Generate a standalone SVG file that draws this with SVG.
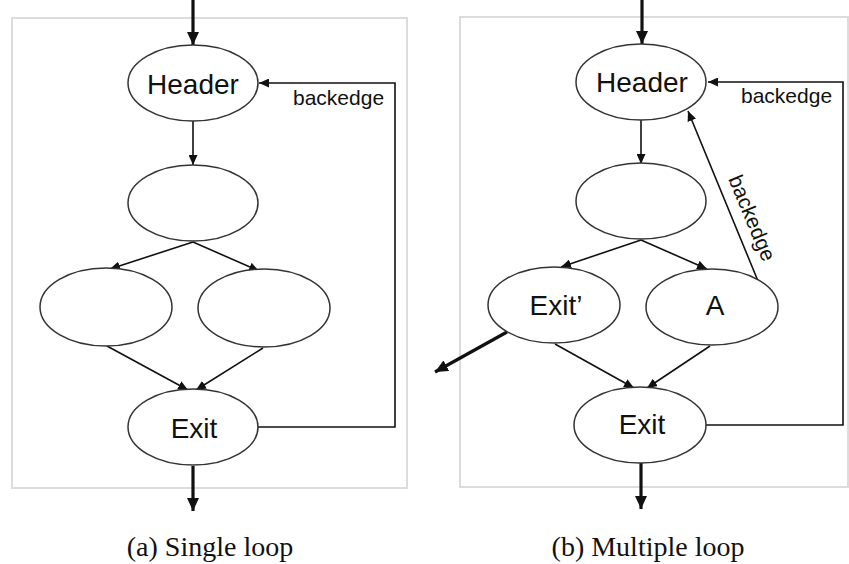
<svg xmlns="http://www.w3.org/2000/svg" width="849" height="564" viewBox="0 0 849 564">
<style>
.frame{fill:none;stroke:#dcdcdc;stroke-width:2}
.node{fill:#fff;stroke:#333;stroke-width:1.5}
.lbl{font-family:"Liberation Sans",Arial,sans-serif;font-size:28px;fill:#111;text-anchor:middle}
.elbl{font-family:"Liberation Sans",Arial,sans-serif;font-size:21px;fill:#111}
.edge{fill:none;stroke:#111;stroke-width:1.6}
.thick{fill:none;stroke:#111;stroke-width:3.2}
.cap{font-family:"Liberation Serif","Times New Roman",serif;font-size:28px;fill:#111;text-anchor:middle}
</style>
<defs>
<marker id="ah" markerUnits="userSpaceOnUse" markerWidth="10" markerHeight="9" refX="10" refY="4.5" orient="auto"><path d="M0,0 L10,4.5 L0,9 z" fill="#111"/></marker>
<marker id="ahT" markerUnits="userSpaceOnUse" markerWidth="13" markerHeight="12" refX="13" refY="6" orient="auto"><path d="M0,0 L13,6 L0,12 z" fill="#111"/></marker>
</defs>
<rect class="frame" x="12" y="18" width="395" height="470"/>
<rect class="frame" x="460" y="17" width="388" height="470"/>
<g id="connectors">
<line class="thick" x1="193" y1="0" x2="193" y2="45" marker-end="url(#ahT)"/>
<line class="edge" x1="193" y1="121" x2="193" y2="165" marker-end="url(#ah)"/>
<line class="edge" x1="193" y1="242" x2="110" y2="269" marker-end="url(#ah)"/>
<line class="edge" x1="193" y1="242" x2="259" y2="271" marker-end="url(#ah)"/>
<line class="edge" x1="107" y1="346" x2="188" y2="390" marker-end="url(#ah)"/>
<line class="edge" x1="263" y1="348" x2="196" y2="390" marker-end="url(#ah)"/>
<polyline class="edge" points="258,427 395,427 395,83 259,83" marker-end="url(#ah)"/>
<line class="thick" x1="193" y1="466" x2="193" y2="511" marker-end="url(#ahT)"/>
<line class="thick" x1="642" y1="0" x2="642" y2="44" marker-end="url(#ahT)"/>
<line class="edge" x1="641" y1="120" x2="641" y2="164" marker-end="url(#ah)"/>
<line class="edge" x1="641" y1="240" x2="561" y2="267" marker-end="url(#ah)"/>
<line class="edge" x1="641" y1="240" x2="707" y2="269" marker-end="url(#ah)"/>
<line class="edge" x1="555" y1="344" x2="634" y2="388" marker-end="url(#ah)"/>
<line class="edge" x1="710" y1="346" x2="647" y2="388" marker-end="url(#ah)"/>
<polyline class="edge" points="706,425 843,425 843,82 708,82" marker-end="url(#ah)"/>
<line class="edge" x1="758" y1="281" x2="688" y2="111" marker-end="url(#ah)"/>
<line class="thick" x1="507" y1="332" x2="435" y2="372" marker-end="url(#ahT)"/>
<line class="thick" x1="641" y1="463" x2="641" y2="509" marker-end="url(#ahT)"/>
<text class="elbl" x="293" y="105">backedge</text>
<text class="elbl" x="741" y="103">backedge</text>
<text class="elbl" text-anchor="middle" transform="translate(752,218) rotate(67.4)" x="0" y="7">backedge</text>
</g>
<g id="a-header"><ellipse class="node" cx="193" cy="83" rx="65" ry="38"/><text class="lbl" x="193" y="94">Header</text></g>
<g id="a-mid"><ellipse class="node" cx="193" cy="203" rx="65" ry="38"/></g>
<g id="a-left"><ellipse class="node" cx="106" cy="307" rx="66" ry="39"/></g>
<g id="a-right"><ellipse class="node" cx="264" cy="308" rx="66" ry="39"/></g>
<g id="a-exit"><ellipse class="node" cx="193" cy="427" rx="65" ry="38"/><text class="lbl" x="194" y="438">Exit</text></g>
<g id="b-header"><ellipse class="node" cx="641" cy="82" rx="65" ry="38"/><text class="lbl" x="642" y="92">Header</text></g>
<g id="b-mid"><ellipse class="node" cx="641" cy="201" rx="65" ry="38"/></g>
<g id="b-exitp"><ellipse class="node" cx="554" cy="305" rx="66" ry="38"/><text class="lbl" x="556" y="315">Exit’</text></g>
<g id="b-a"><ellipse class="node" cx="712" cy="307" rx="66" ry="38"/><text class="lbl" x="715" y="315">A</text></g>
<g id="b-exit"><ellipse class="node" cx="640" cy="425" rx="66" ry="38"/><text class="lbl" x="642" y="434">Exit</text></g>
<text class="cap" x="210" y="556">(a) Single loop</text>
<text class="cap" x="648" y="556">(b) Multiple loop</text>
</svg>
